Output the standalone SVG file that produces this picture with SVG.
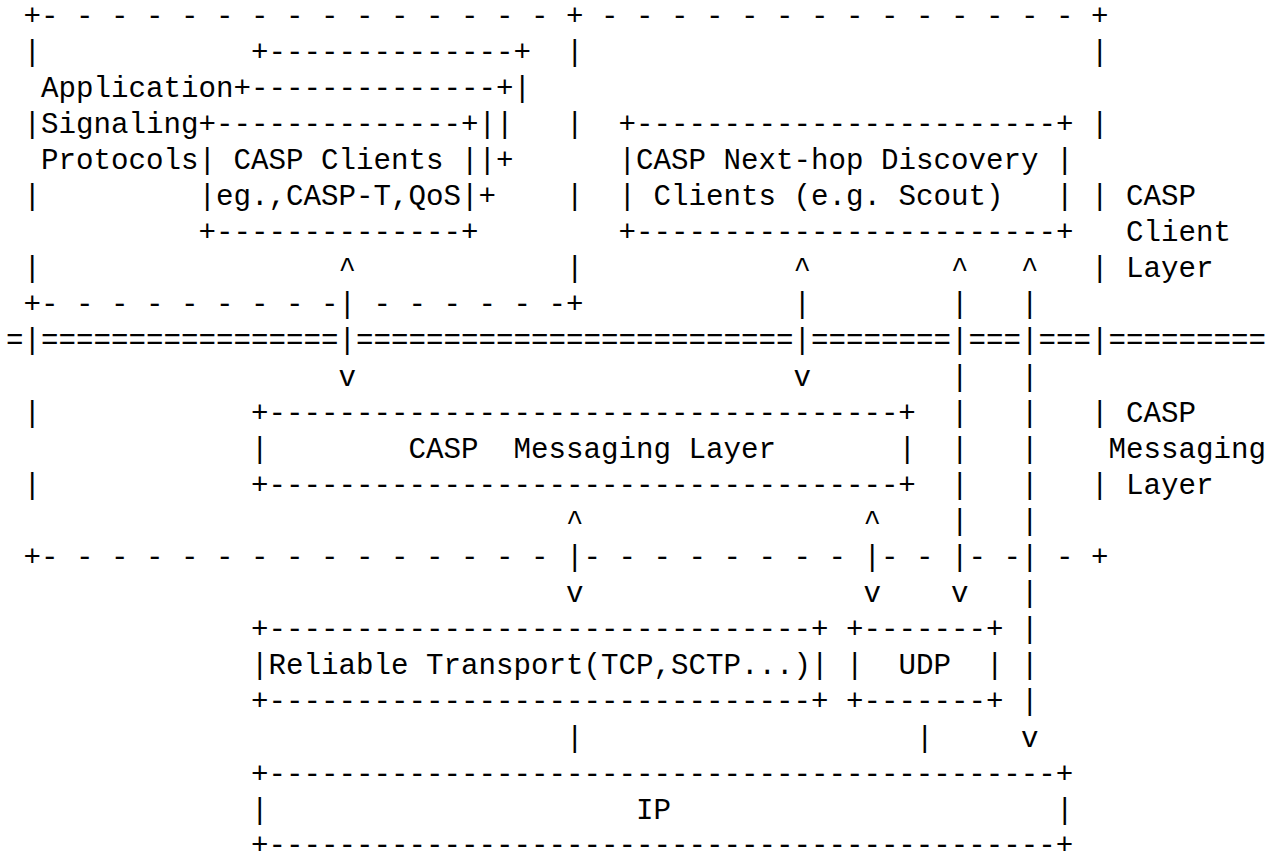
<svg xmlns="http://www.w3.org/2000/svg" width="1278" height="854" viewBox="0 0 1278 854" xml:space="preserve">
<style>
text { font-family: "Liberation Mono", "Courier New", monospace; font-size: 29.17px; fill: #000; white-space: pre; }
</style>
<rect width="1278" height="854" fill="#ffffff"/>
<g id="casp-frame">
<text x="23.5" y="24.5">+- - - - - - - - - - - - - - - +</text>
<text x="601" y="24.5">- - - - - - - - - - - - - - +</text>
<text x="23.5" y="60.6">|</text><text x="566" y="60.6">|</text><text x="1091" y="60.6">|</text>
<text x="23.5" y="132.8">|</text><text x="566" y="132.8">|</text><text x="1091" y="132.8">|</text>
<text x="23.5" y="205">|</text><text x="566" y="205">|</text><text x="1091" y="205">|</text>
<text x="23.5" y="277.2">|</text><text x="566" y="277.2">|</text><text x="1091" y="277.2">|</text>
<text x="23.5" y="313.3">+- - - - - - - - -</text>
<text x="373.5" y="313.3">- - - - - -+</text>
<text x="23.5" y="421.6">|</text><text x="1091" y="421.6">|</text>
<text x="23.5" y="493.8">|</text><text x="1091" y="493.8">|</text>
<text x="23.5" y="566">+- - - - - - - - - - - - - - -</text>
<text x="583.5" y="566">- - - - - - - -</text>
<text x="881" y="566">- -</text>
<text x="968.5" y="566">- -</text>
<text x="1056" y="566">- +</text>
</g>
<g id="layer-separator">
<text x="6" y="349.4">=</text>
<text x="23.5" y="349.4">|</text>
<text x="41" y="349.4">=================</text>
<text x="356" y="349.4">=========================</text>
<text x="811" y="349.4">========</text>
<text x="968.5" y="349.4">===</text>
<text x="1038.5" y="349.4">===</text>
<text x="1091" y="349.4">|</text>
<text x="1108.5" y="349.4">=========</text>
</g>
<g id="app-signaling-protocols">
<text x="41" y="96.7">Application</text>
<text x="41" y="132.8">Signaling</text>
<text x="41" y="168.9">Protocols</text>
</g>
<g id="casp-clients">
<text x="251" y="60.6">+--------------+</text>
<text x="233.5" y="96.7">+--------------+|</text>
<text x="198.5" y="132.8">+--------------+||</text>
<text x="198.5" y="168.9">| CASP Clients ||+</text>
<text x="198.5" y="205">|eg.,CASP-T,QoS|+</text>
<text x="198.5" y="241.1">+--------------+</text>
</g>
<g id="next-hop-discovery">
<text x="618.5" y="132.8">+------------------------+</text>
<text x="618.5" y="168.9">|CASP Next-hop Discovery |</text>
<text x="618.5" y="205">| Clients (e.g. Scout)   |</text>
<text x="618.5" y="241.1">+------------------------+</text>
</g>
<g id="label-client-layer">
<text x="1126" y="205">CASP</text>
<text x="1126" y="241.1">Client</text>
<text x="1126" y="277.2">Layer</text>
</g>
<g id="casp-messaging-layer">
<text x="251" y="421.6">+------------------------------------+</text>
<text x="251" y="457.7">|</text>
<text x="408.5" y="457.7">CASP  Messaging Layer</text>
<text x="898.5" y="457.7">|</text>
<text x="251" y="493.8">+------------------------------------+</text>
</g>
<g id="label-messaging-layer">
<text x="1126" y="421.6">CASP</text>
<text x="1108.5" y="457.7">Messaging</text>
<text x="1126" y="493.8">Layer</text>
</g>
<g id="reliable-transport">
<text x="251" y="638.2">+-------------------------------+</text>
<text x="251" y="674.3">|Reliable Transport(TCP,SCTP...)|</text>
<text x="251" y="710.4">+-------------------------------+</text>
</g>
<g id="udp">
<text x="846" y="638.2">+-------+</text>
<text x="846" y="674.3">|  UDP  |</text>
<text x="846" y="710.4">+-------+</text>
</g>
<g id="ip">
<text x="251" y="782.6">+---------------------------------------------+</text>
<text x="251" y="818.7">|</text>
<text x="636" y="818.7">IP</text>
<text x="1056" y="818.7">|</text>
<text x="251" y="854.3">+---------------------------------------------+</text>
</g>
<g id="connectors">
<text x="338.5" y="277.2">^</text>
<text x="338.5" y="313.3">|</text>
<text x="338.5" y="349.4">|</text>
<text x="338.5" y="385.5">v</text>
<text x="793.5" y="277.2">^</text>
<text x="793.5" y="313.3">|</text>
<text x="793.5" y="349.4">|</text>
<text x="793.5" y="385.5">v</text>
<text x="951" y="277.2">^</text>
<text x="951" y="313.3">|</text>
<text x="951" y="349.4">|</text>
<text x="951" y="385.5">|</text>
<text x="951" y="421.6">|</text>
<text x="951" y="457.7">|</text>
<text x="951" y="493.8">|</text>
<text x="951" y="529.9">|</text>
<text x="951" y="566">|</text>
<text x="951" y="602.1">v</text>
<text x="1021" y="277.2">^</text>
<text x="1021" y="313.3">|</text>
<text x="1021" y="349.4">|</text>
<text x="1021" y="385.5">|</text>
<text x="1021" y="421.6">|</text>
<text x="1021" y="457.7">|</text>
<text x="1021" y="493.8">|</text>
<text x="1021" y="529.9">|</text>
<text x="1021" y="566">|</text>
<text x="1021" y="602.1">|</text>
<text x="1021" y="638.2">|</text>
<text x="1021" y="674.3">|</text>
<text x="1021" y="710.4">|</text>
<text x="1021" y="746.5">v</text>
<text x="566" y="529.9">^</text>
<text x="566" y="566">|</text>
<text x="566" y="602.1">v</text>
<text x="863.5" y="529.9">^</text>
<text x="863.5" y="566">|</text>
<text x="863.5" y="602.1">v</text>
<text x="566" y="746.5">|</text>
<text x="916" y="746.5">|</text>
</g>
</svg>
